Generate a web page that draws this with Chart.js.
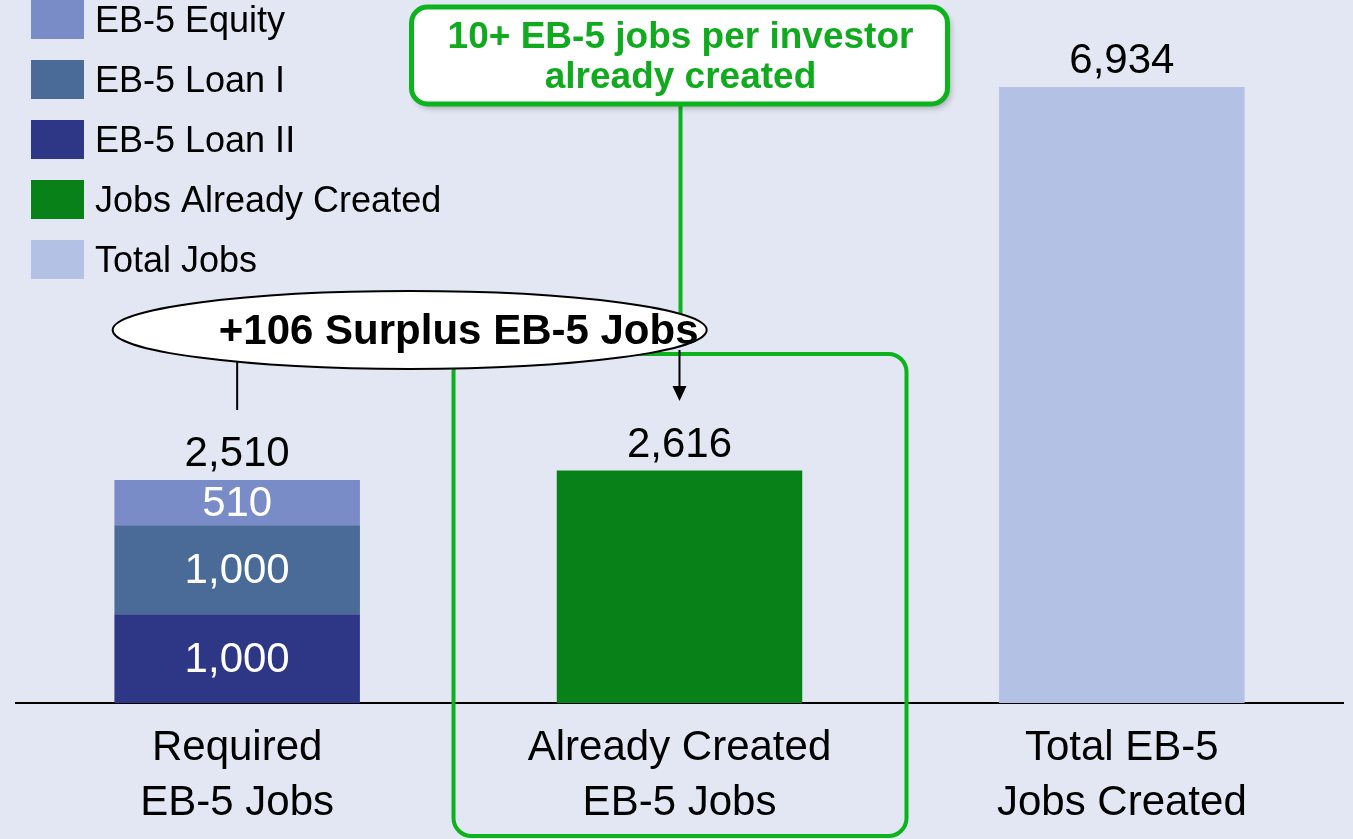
<!DOCTYPE html>
<html>
<head>
<meta charset="utf-8">
<script src="https://cdn.jsdelivr.net/npm/chart.js@4"></script>
<style>
  html, body { margin: 0; padding: 0; background: #e3e7f3; }
  #wrap { width: 1353px; height: 839px; position: relative; }
</style>
</head>
<body>
<div id="wrap"><canvas id="jobsChart"></canvas></div>
<script>
const categories = [['Required', 'EB-5 Jobs'], ['Already Created', 'EB-5 Jobs'], ['Total EB-5', 'Jobs Created']];
const loanII = [1000, null, null];
const loanI = [1000, null, null];
const equity = [510, null, null];
const alreadyCreated = [null, 2616, null];
const totalJobs = [null, null, 6934];
const surplusText = '+106 Surplus EB-5 Jobs';
const calloutLines = ['10+ EB-5 jobs per investor', 'already created'];

const FONT = '"Liberation Sans", Arial, Helvetica, sans-serif';
const GREEN = '#0db31d';

function fmt(v) {
    return v.toLocaleString('en-US');
}

// background colour behind everything
const bgPlugin = {
    id: 'bg',
    beforeDraw(chart) {
        const ctx = chart.ctx;
        ctx.save();
        ctx.fillStyle = '#e3e7f3';
        ctx.fillRect(0, 0, chart.width, chart.height);
        ctx.restore();
    }
};

// value labels: white inside stacked segments, black totals on top
const labelPlugin = {
    id: 'valueLabels',
    afterDatasetsDraw(chart) {
        const ctx = chart.ctx;
        const ds = chart.data.datasets;
        ctx.save();
        ctx.textAlign = 'center';
        ctx.font = '42px ' + FONT;

        categories.forEach((cat, j) => {
            let top = null, sum = 0, count = 0, x = 0;
            ds.forEach((d, i) => {
                const v = d.data[j];
                if (v == null) return;
                const bar = chart.getDatasetMeta(i).data[j];
                sum += v;
                count++;
                x = bar.x;
                top = top == null ? bar.y : Math.min(top, bar.y);
            });
            if (count > 1) {
                ds.forEach((d, i) => {
                    const v = d.data[j];
                    if (v == null) return;
                    const bar = chart.getDatasetMeta(i).data[j];
                    ctx.fillStyle = '#ffffff';
                    ctx.textBaseline = 'middle';
                    ctx.fillText(fmt(v), bar.x, (bar.y + bar.base) / 2 + 2);
                });
            }
            ctx.fillStyle = '#000000';
            ctx.textBaseline = 'alphabetic';
            ctx.fillText(fmt(sum), x, top - 14);
        });
        ctx.restore();
    }
};

// vertical legend in the top-left corner
const legendOrder = [2, 1, 0, 3, 4];
const legendPlugin = {
    id: 'sideLegend',
    afterDraw(chart) {
        const ctx = chart.ctx;
        ctx.save();
        ctx.font = '36px ' + FONT;
        ctx.textBaseline = 'middle';
        ctx.textAlign = 'left';
        legendOrder.forEach((idx, k) => {
            const d = chart.data.datasets[idx];
            const y = k * 60;
            ctx.fillStyle = d.backgroundColor;
            ctx.fillRect(31, y, 53, 39);
            ctx.fillStyle = '#000000';
            ctx.fillText(d.label, 95, y + 22);
        });
        ctx.restore();
    }
};

function roundRect(ctx, x, y, w, h, r) {
    ctx.beginPath();
    ctx.moveTo(x + r, y);
    ctx.arcTo(x + w, y, x + w, y + h, r);
    ctx.arcTo(x + w, y + h, x, y + h, r);
    ctx.arcTo(x, y + h, x, y, r);
    ctx.arcTo(x, y, x + w, y, r);
    ctx.closePath();
}

// callouts: green frame, green box, surplus ellipse and connectors
const calloutPlugin = {
    id: 'callouts',
    afterDraw(chart) {
        const ctx = chart.ctx;
        const xs = chart.scales.x;
        const x0 = xs.getPixelForValue(0);
        const x1 = xs.getPixelForValue(1);
        const ex = x0 + (x1 - x0) * 0.39;
        const ey = 330;
        ctx.save();

        // frame around the middle category
        ctx.strokeStyle = GREEN;
        ctx.lineWidth = 4;
        roundRect(ctx, x1 - 226, 354, 453, 482, 18);
        ctx.stroke();

        // green connector from callout box
        ctx.lineWidth = 4;
        ctx.beginPath();
        ctx.moveTo(x1 + 1, 100);
        ctx.lineTo(x1 + 1, ey);
        ctx.stroke();

        // callout box with shadow
        ctx.save();
        ctx.shadowColor = 'rgba(0,0,0,0.28)';
        ctx.shadowBlur = 6;
        ctx.shadowOffsetX = 3;
        ctx.shadowOffsetY = 4;
        roundRect(ctx, x1 - 268, 7, 536, 97, 16);
        ctx.fillStyle = '#ffffff';
        ctx.fill();
        ctx.restore();
        roundRect(ctx, x1 - 268, 7, 536, 97, 16);
        ctx.lineWidth = 5;
        ctx.strokeStyle = GREEN;
        ctx.stroke();
        ctx.fillStyle = '#10aa1e';
        ctx.font = 'bold 37px ' + FONT;
        ctx.textAlign = 'center';
        ctx.textBaseline = 'middle';
        ctx.fillText(calloutLines[0], x1 + 1, 38);
        ctx.fillText(calloutLines[1], x1 + 1, 78);

        // black connectors from ellipse
        ctx.strokeStyle = '#000000';
        ctx.fillStyle = '#000000';
        ctx.lineWidth = 2;
        ctx.beginPath();
        ctx.moveTo(x0, ey + 20);
        ctx.lineTo(x0, 410);
        ctx.moveTo(x1, ey + 20);
        ctx.lineTo(x1, 388);
        ctx.stroke();
        ctx.beginPath();
        ctx.moveTo(x1 - 7, 386);
        ctx.lineTo(x1 + 7, 386);
        ctx.lineTo(x1, 401);
        ctx.closePath();
        ctx.fill();

        // surplus ellipse
        ctx.beginPath();
        ctx.ellipse(ex, ey, 297, 39, 0, 0, Math.PI * 2);
        ctx.fillStyle = '#ffffff';
        ctx.fill();
        ctx.lineWidth = 2;
        ctx.strokeStyle = '#000000';
        ctx.stroke();
        ctx.fillStyle = '#000000';
        ctx.font = 'bold 42px ' + FONT;
        ctx.textBaseline = 'middle';
        ctx.fillText(surplusText, ex + 49, ey + 2);

        ctx.restore();
    }
};

const ctx = document.getElementById('jobsChart').getContext('2d');

new Chart(ctx, {
    type: 'bar',
    data: {
        labels: categories,
        datasets: [
            { label: 'EB-5 Loan II', data: loanII, backgroundColor: '#2e3785' },
            { label: 'EB-5 Loan I', data: loanI, backgroundColor: '#4a6a98' },
            { label: 'EB-5 Equity', data: equity, backgroundColor: '#7a8cc8' },
            { label: 'Jobs Already Created', data: alreadyCreated, backgroundColor: '#078118' },
            { label: 'Total Jobs', data: totalJobs, backgroundColor: '#b3c2e4' }
        ]
    },
    options: {
        responsive: true,
        maintainAspectRatio: false,
        animation: false,
        layout: {
            padding: { left: 16, right: 10, top: 0, bottom: 0 }
        },
        datasets: {
            bar: {
                categoryPercentage: 1,
                barPercentage: 0.555,
                borderWidth: 0
            }
        },
        plugins: {
            legend: { display: false },
            tooltip: { enabled: false }
        },
        scales: {
            x: {
                stacked: true,
                grid: { display: false, drawTicks: false },
                border: { display: true, color: '#000000', width: 2 },
                ticks: {
                    color: '#000000',
                    padding: 18,
                    font: { family: FONT, size: 42, lineHeight: 1.31 }
                },
                afterFit(scale) {
                    scale.height = 136;
                }
            },
            y: {
                stacked: true,
                display: false,
                min: 0,
                max: 7913
            }
        }
    },
    plugins: [bgPlugin, labelPlugin, legendPlugin, calloutPlugin]
});
</script>
</body>
</html>
